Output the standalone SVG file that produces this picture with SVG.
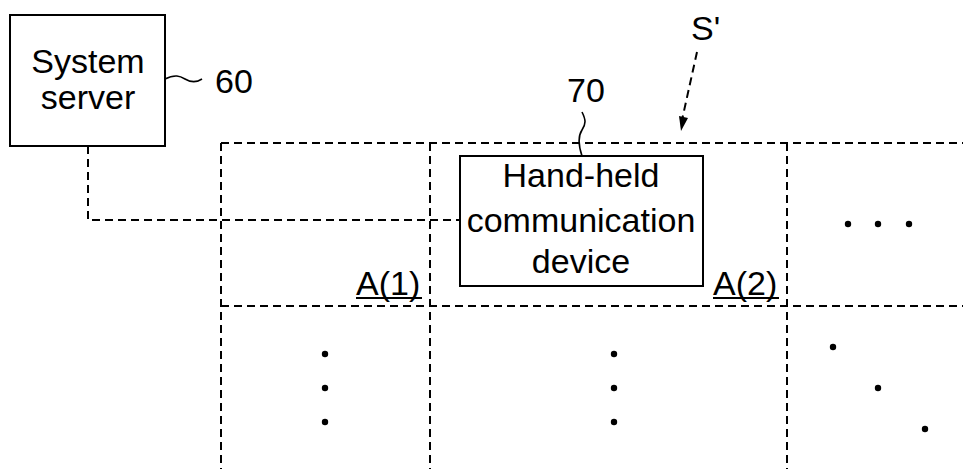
<svg xmlns="http://www.w3.org/2000/svg" width="963" height="469" viewBox="0 0 963 469">
<defs>
<style>
.box{fill:#fff;stroke:#000;stroke-width:2}
.dash{fill:none;stroke:#000;stroke-width:2;stroke-dasharray:8 5}
.lead{fill:none;stroke:#000;stroke-width:1.6}
.t{font-family:"Liberation Sans",Arial,sans-serif;font-size:34px;fill:#000}
.dot{fill:#000}
</style>
</defs>
<rect width="963" height="469" fill="#fff"/>
<g id="grid">
<path class="dash" d="M221,143 H963 M221,306 H963 M221,143 V469 M430,143 V469 M787,143 V469"/>
</g>
<g id="connectors">
<path class="dash" d="M88,146 V220 H460"/>
<path class="dash" d="M697,52 L682,120"/>
<path d="M681,131 L679,116 L688,118 Z" fill="#000"/>
</g>
<g id="server">
<rect class="box" x="10" y="15" width="155" height="131"/>
<text class="t" x="88" y="73" text-anchor="middle">System</text>
<text class="t" x="88" y="109" text-anchor="middle">server</text>
<path class="lead" d="M165,79 C175,74 180,76 185,79 C190,82 196,83 202,79"/>
<text class="t" x="215" y="93">60</text>
</g>
<g id="device">
<rect class="box" x="460" y="156" width="243" height="130"/>
<text class="t" x="581" y="187" text-anchor="middle">Hand-held</text>
<text class="t" x="581" y="232" text-anchor="middle">communication</text>
<text class="t" x="581" y="273" text-anchor="middle">device</text>
<path class="lead" d="M582,112 C586,120 586,124 582,130 C578,136 578,144 582,156"/>
<text class="t" x="567" y="102">70</text>
</g>
<g id="s-label">
<text class="t" x="691" y="40">S'</text>
</g>
<g id="a1">
<text class="t" x="356" y="295">A(1)</text>
<rect x="356" y="297" width="66" height="2" fill="#000"/>
</g>
<g id="a2">
<text class="t" x="713" y="295">A(2)</text>
<rect x="713" y="297" width="66" height="2" fill="#000"/>
</g>
<g id="dots">
<circle class="dot" cx="848" cy="224" r="3.2"/>
<circle class="dot" cx="878" cy="224" r="3.2"/>
<circle class="dot" cx="909" cy="224" r="3.2"/>
<circle class="dot" cx="325" cy="354" r="3.2"/>
<circle class="dot" cx="325" cy="388" r="3.2"/>
<circle class="dot" cx="325" cy="422" r="3.2"/>
<circle class="dot" cx="614" cy="354" r="3.2"/>
<circle class="dot" cx="614" cy="388" r="3.2"/>
<circle class="dot" cx="614" cy="422" r="3.2"/>
<circle class="dot" cx="833" cy="347" r="3.2"/>
<circle class="dot" cx="878" cy="388" r="3.2"/>
<circle class="dot" cx="925" cy="429" r="3.2"/>
</g>
</svg>
